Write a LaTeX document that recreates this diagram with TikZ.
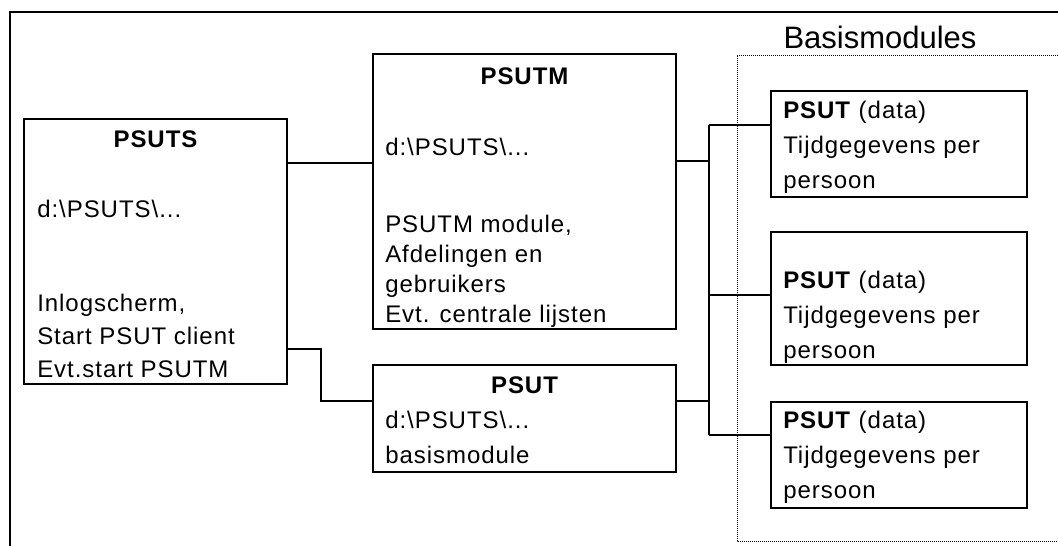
\documentclass[tikz,border=0pt]{standalone}
\usepackage{fontspec}
\setmainfont{Liberation Sans}[LetterSpace=4]
\newfontfamily\headfont{Liberation Sans}

\tikzset{
  modbox/.style 2 args={draw=black, line width=1.1pt, inner sep=0pt,
    minimum width=#1*0.75pt, minimum height=#2*0.75pt},
  boxtitle/.style={anchor=base, inner sep=0pt, font=\fontsize{18}{24}\selectfont\bfseries},
  boxtext/.style={anchor=base west, inner sep=0pt, align=left},
  link/.style={draw=black, line width=1.1pt}
}

\begin{document}
\begin{tikzpicture}[x=0.75pt, y=-0.75pt]

\useasboundingbox (0,0) rectangle (1058,546);

% Frame
\draw[line width=1.3pt] (10,546) -- (10,12) -- (1058,12);

% Basismodules group (dotted)
\draw[line width=0.75pt, dash pattern=on 0.75pt off 0.75pt] (1058,55) -- (737,55) -- (737,541) -- (1058,541);
\path 
(880,48) node [anchor=base, inner sep=0pt, font=\headfont\fontsize{23.25}{28}\selectfont] (grouplabel) {Basismodules};


% PSUTS
\node[modbox={263}{265}] (psuts) at (155.5,251.5) {};
\path 
(155.5,147) node [boxtitle] (psutsname) {PSUTS};
\path 
(37,217) node [boxtext, font=\fontsize{18}{24.75}\selectfont] (psutspath) {d:\textbackslash PSUTS\textbackslash...};
% multi-line text: base = last line
\path 
(37,377) node [boxtext, font=\fontsize{18}{24.75}\selectfont] (psutsinfo) {Inlogscherm,\\Start PSUT client\\Evt.start PSUTM};


% PSUTM
\node[modbox={303}{275}] (psutm) at (524.5,191.5) {};
\path 
(524.5,84) node [boxtitle] (psutmname) {PSUTM};
\path 
(385,155) node [boxtext, font=\fontsize{18}{22.5}\selectfont] (psutmpath) {d:\textbackslash PSUTS\textbackslash...};
\path 
(385,322) node [boxtext, font=\fontsize{18}{22.5}\selectfont] (psutminfo) {PSUTM module,\\Afdelingen en\\gebruikers\\Evt. centrale lijsten};


% PSUT
\node[modbox={303}{107}] (psut) at (524.5,418.5) {};
\path 
(524.5,393) node [boxtitle] (psutname) {PSUT};
\path 
(385,463) node [boxtext, font=\fontsize{18}{26.25}\selectfont] (psutinfo) {d:\textbackslash PSUTS\textbackslash...\\basismodule};


% Basismodules (data)
\node[modbox={256}{106}] (dataA) at (899,144) {};
\node[modbox={256}{133}] (dataB) at (899,298.5) {};
\node[modbox={256}{106}] (dataC) at (899,455) {};

\path 
(783,188) node [boxtext, font=\fontsize{18}{26.25}\selectfont] (dataAtext) {\textbf{PSUT} (data)\\Tijdgegevens per\\persoon};
\path 
(783,358) node [boxtext, font=\fontsize{18}{26.25}\selectfont] (dataBtext) {\textbf{PSUT} (data)\\Tijdgegevens per\\persoon};
\path 
(783,498) node [boxtext, font=\fontsize{18}{26.25}\selectfont] (dataCtext) {\textbf{PSUT} (data)\\Tijdgegevens per\\persoon};


% Links PSUTS
\coordinate (toManager) at (330,163);
\coordinate (kneeA) at (321,349);
\coordinate (kneeB) at (321,401);
\draw[link] (psuts.east |- toManager) -- (psutm.west |- toManager);
\draw[link] (psuts.east |- kneeA) -- (kneeA) -- (kneeB) -- (psut.west |- kneeB);

% Bus to the data modules
\coordinate (busA) at (709,125);
\coordinate (busB) at (709,295);
\coordinate (busC) at (709,435);
\coordinate (busM) at (709,161);
\coordinate (busP) at (709,401);
\draw[link] (busA) -- (busC);
\draw[link] (psutm.east |- busM) -- (busM);
\draw[link] (psut.east |- busP) -- (busP);
\draw[link] (busA) -- (dataA.west |- busA);
\draw[link] (busB) -- (dataB.west |- busB);
\draw[link] (busC) -- (dataC.west |- busC);

\end{tikzpicture}
\end{document}
